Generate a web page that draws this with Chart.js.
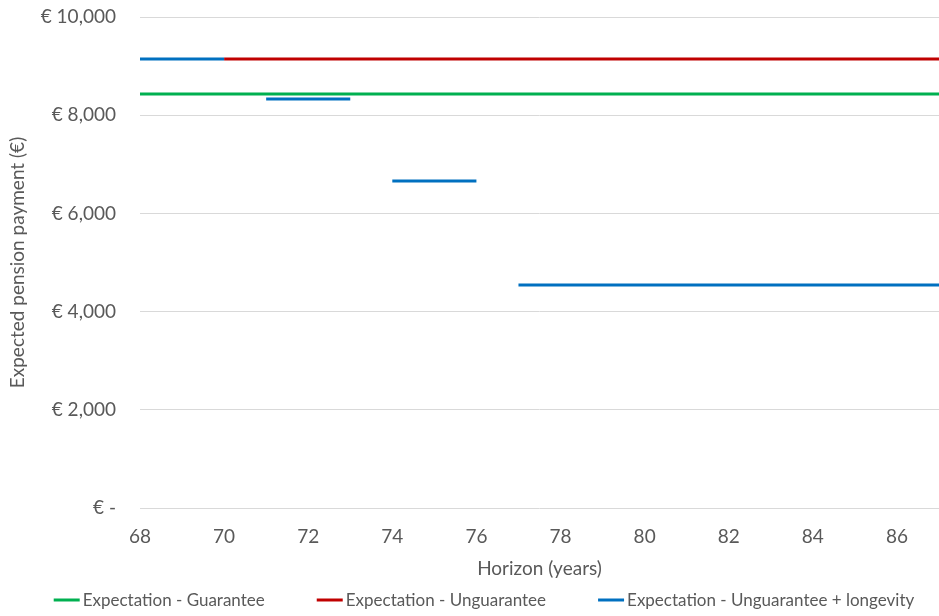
<!DOCTYPE html>
<html>
<head>
<meta charset="utf-8">
<script src="https://cdn.jsdelivr.net/npm/chart.js@4.4.1/dist/chart.umd.min.js"></script>
<style>
html,body{margin:0;padding:0;background:#fff;}
#wrap{width:939px;height:616px;position:relative;}
</style>
</head>
<body>
<div id="wrap"><canvas id="c"></canvas></div>
<script>
// ---- data ----
const seriesNames = ['Expectation - Guarantee', 'Expectation - Unguarantee', 'Expectation - Unguarantee + longevity'];
const guaranteeX = [68, 87];
const guaranteeY = [8430, 8430];
const unguaranteeX = [70, 87];
const unguaranteeY = [9145, 9145];
const longevityX = [68, 70, 70.5, 71, 73, 73.5, 74, 76, 76.5, 77, 87];
const longevityY = [9145, 9145, null, 8330, 8330, null, 6660, 6660, null, 4540, 4540];
const xTicks = [68, 70, 72, 74, 76, 78, 80, 82, 84, 86];
const yTicks = [0, 2000, 4000, 6000, 8000, 10000];

const colors = ['#00B050', '#C00000', '#0070C0'];
const FONT = 'Lato, "Open Sans", sans-serif';
const TXT = '#595959';

function pts(xs, ys){ return xs.map((x,i)=>({x:x, y:ys[i]})); }

const legendPlugin = {
  id: 'customLegend',
  afterDraw(chart){
    const ctx = chart.ctx;
    ctx.save();
    ctx.font = '17px ' + FONT;
    const lineW = 26, gap = 3, spacing = 52;
    const ds = chart.data.datasets;
    const widths = ds.map(d => lineW + gap + ctx.measureText(d.label).width);
    const total = widths.reduce((a,b)=>a+b,0) + spacing*(ds.length-1);
    let x = 484 - total/2;
    const y = 600;
    ds.forEach((d,i)=>{
      ctx.strokeStyle = d.borderColor;
      ctx.lineWidth = 3;
      ctx.beginPath(); ctx.moveTo(x, y); ctx.lineTo(x+lineW, y); ctx.stroke();
      ctx.fillStyle = TXT;
      ctx.textBaseline = 'middle';
      ctx.textAlign = 'left';
      ctx.fillText(d.label, x+lineW+gap, y+1);
      x += widths[i] + spacing;
    });
    ctx.restore();
  }
};

new Chart(document.getElementById('c'), {
  type: 'line',
  data: {
    datasets: [
      {label: seriesNames[0], data: pts(guaranteeX, guaranteeY), borderColor: colors[0], backgroundColor: colors[0], borderWidth: 3, pointRadius: 0, spanGaps: false, order: 3},
      {label: seriesNames[1], data: pts(unguaranteeX, unguaranteeY), borderColor: colors[1], backgroundColor: colors[1], borderWidth: 3, pointRadius: 0, spanGaps: false, order: 2},
      {label: seriesNames[2], data: pts(longevityX, longevityY), borderColor: colors[2], backgroundColor: colors[2], borderWidth: 3, pointRadius: 0, spanGaps: false, order: 1}
    ]
  },
  options: {
    responsive: true,
    maintainAspectRatio: false,
    animation: false,
    layout: {padding: {top: 17, right: 0, bottom: 36, left: 0}},
    plugins: {legend: {display: false}, tooltip: {enabled: false}},
    scales: {
      x: {
        type: 'linear', min: 68, max: 87,
        afterBuildTicks: (s) => { s.ticks = xTicks.map(v => ({value: v})); },
        afterFit: (s) => { s.height = 72; s.paddingLeft = 0; s.paddingRight = 0; },
        grid: {display: false, drawTicks: false},
        border: {display: false},
        ticks: {font: {family: FONT, size: 19}, color: TXT, padding: 17, maxRotation: 0},
        title: {display: true, text: 'Horizon (years)', font: {family: FONT, size: 19}, color: TXT, padding: {top: 6, bottom: 0}}
      },
      y: {
        min: 0, max: 10000,
        afterBuildTicks: (s) => { s.ticks = yTicks.map(v => ({value: v})); },
        afterFit: (s) => { s.width = 140; s.paddingTop = 0; s.paddingBottom = 0; },
        grid: {color: '#D9D9D9', drawTicks: false, lineWidth: 1},
        border: {display: false},
        ticks: {font: {family: FONT, size: 19}, color: TXT, padding: 24,
          callback: (v) => v === 0 ? '€ -' : '€ ' + Number(v).toLocaleString('en-US')},
        title: {display: true, text: 'Expected pension payment (€)', font: {family: FONT, size: 19}, color: TXT, padding: {top: 6, bottom: 0}}
      }
    }
  },
  plugins: [legendPlugin]
});
</script>
</body>
</html>
